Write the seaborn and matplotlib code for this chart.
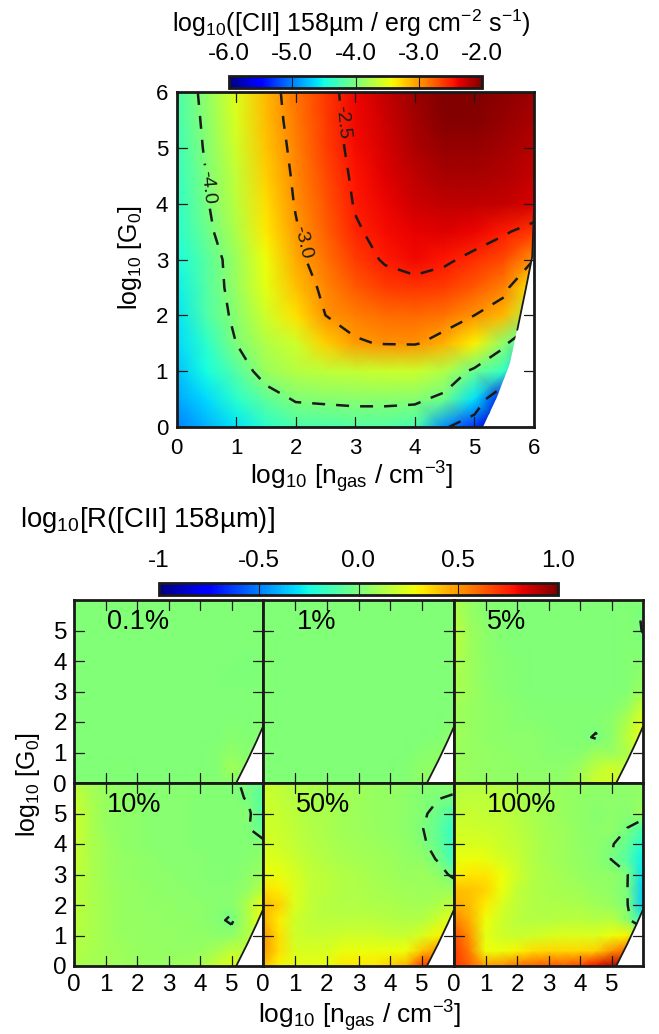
import numpy as np
import pandas as pd
import matplotlib
matplotlib.use("Agg")
import matplotlib.pyplot as plt
import seaborn as sns
from matplotlib.cm import ScalarMappable
from matplotlib.colors import Normalize
from matplotlib.patches import Polygon

W, H = 659, 1034

sns.set_theme(style="ticks")
plt.rcParams["font.family"] = ["Liberation Sans", "DejaVu Sans"]
plt.rcParams["mathtext.fontset"] = "custom"
plt.rcParams["mathtext.rm"] = "Liberation Sans"
plt.rcParams["mathtext.default"] = "regular"
plt.rcParams["text.color"] = "black"
plt.rcParams["xtick.color"] = "black"
plt.rcParams["ytick.color"] = "black"

# grids: rows run from log G0 = 6 (top) down to 0, columns log n = 0 ... 6, step 0.5
grid_step = 0.5

cii_map = [
    [-4.25, -3.90, -3.53, -3.15, -2.85, -2.60, -2.38, -2.25, -2.10, -2.00, -2.00, -2.05, -2.10],
    [-4.28, -3.93, -3.56, -3.17, -2.88, -2.62, -2.40, -2.27, -2.13, -2.03, -2.03, -2.08, -2.15],
    [-4.30, -3.96, -3.60, -3.20, -2.92, -2.64, -2.42, -2.30, -2.17, -2.08, -2.08, -2.13, -2.20],
    [-4.35, -4.00, -3.66, -3.25, -2.95, -2.68, -2.45, -2.33, -2.22, -2.15, -2.15, -2.18, -2.25],
    [-4.38, -4.03, -3.70, -3.30, -2.98, -2.72, -2.48, -2.38, -2.28, -2.22, -2.22, -2.25, -2.30],
    [-4.42, -4.08, -3.76, -3.35, -3.03, -2.78, -2.53, -2.42, -2.36, -2.33, -2.38, -2.47, -2.60],
    [-4.50, -4.18, -3.85, -3.45, -3.08, -2.85, -2.62, -2.47, -2.40, -2.46, -2.56, -2.68, -3.00],
    [-4.55, -4.20, -3.87, -3.50, -3.18, -2.93, -2.75, -2.62, -2.58, -2.62, -2.75, -2.92, -3.40],
    [-4.60, -4.22, -3.93, -3.60, -3.32, -3.00, -2.90, -2.82, -2.80, -2.85, -3.00, -3.15, -3.80],
    [-4.65, -4.38, -4.00, -3.75, -3.60, -3.25, -3.03, -2.98, -2.97, -3.12, -3.38, -3.93, -4.50],
    [-4.75, -4.50, -4.20, -3.85, -3.72, -3.68, -3.65, -3.62, -3.62, -3.75, -4.08, -4.35, -5.20],
    [-4.85, -4.65, -4.40, -4.15, -3.97, -3.95, -3.93, -3.93, -3.94, -4.08, -4.62, -5.60, -6.00],
    [-5.00, -4.80, -4.60, -4.40, -4.25, -4.22, -4.20, -4.20, -4.25, -4.95, -5.30, -6.00, -6.00],
]

ratio_01 = [
    [0.01, 0.01, 0.01, 0.01, 0.01, 0.01, 0.01, 0.01, 0.01, 0.01, 0.01, 0.01, 0.01],
    [0.01, 0.01, 0.01, 0.01, 0.01, 0.01, 0.01, 0.01, 0.01, 0.01, 0.01, 0.01, 0.01],
    [0.01, 0.01, 0.01, 0.01, 0.01, 0.01, 0.01, 0.01, 0.01, 0.01, 0.01, 0.01, 0.01],
    [0.01, 0.01, 0.01, 0.01, 0.01, 0.01, 0.01, 0.01, 0.01, 0.01, 0.01, 0.01, 0.01],
    [0.01, 0.01, 0.01, 0.01, 0.01, 0.01, 0.01, 0.01, 0.01, 0.01, 0.01, 0.005, 0.01],
    [0.01, 0.01, 0.01, 0.01, 0.01, 0.01, 0.01, 0.01, 0.01, 0.01, 0.005, 0.005, 0.01],
    [0.01, 0.01, 0.01, 0.01, 0.01, 0.01, 0.01, 0.01, 0.01, 0.01, 0.01, 0.01, 0.01],
    [0.01, 0.01, 0.01, 0.01, 0.01, 0.01, 0.01, 0.01, 0.01, 0.01, 0.01, 0.01, 0.01],
    [0.01, 0.01, 0.01, 0.01, 0.01, 0.01, 0.01, 0.01, 0.01, 0.01, 0.02, 0.01, 0.03],
    [0.01, 0.01, 0.01, 0.01, 0.01, 0.01, 0.01, 0.01, 0.01, 0.01, 0.03, 0.02, 0.03],
    [0.01, 0.01, 0.01, 0.01, 0.01, 0.01, 0.01, 0.01, 0.01, 0.02, 0.05, 0.03, 0.03],
    [0.01, 0.01, 0.01, 0.02, 0.01, 0.01, 0.01, 0.01, 0.01, 0.02, 0.09, 0.04, 0.04],
    [0.01, 0.01, 0.01, 0.01, 0.01, 0.01, 0.01, 0.01, 0.03, 0.02, 0.03, 0.04, 0.04],
]

ratio_1 = [
    [0.01, 0.01, 0.01, 0.01, 0.01, 0.01, 0.01, 0.01, 0.01, 0.01, 0.01, 0.01, 0.01],
    [0.01, 0.01, 0.01, 0.01, 0.01, 0.01, 0.01, 0.01, 0.01, 0.01, 0.01, 0.01, 0.01],
    [0.01, 0.01, 0.01, 0.01, 0.01, 0.01, 0.01, 0.01, 0.01, 0.01, 0.01, 0.01, 0.01],
    [0.02, 0.01, 0.01, 0.01, 0.01, 0.01, 0.01, 0.01, 0.01, 0.01, 0.01, 0.01, 0.01],
    [0.02, 0.01, 0.01, 0.01, 0.01, 0.01, 0.01, 0.01, 0.01, 0.01, 0.01, 0.01, 0.01],
    [0.02, 0.01, 0.01, 0.01, 0.01, 0.01, 0.01, 0.01, 0.01, 0.01, 0.01, 0.01, 0.01],
    [0.02, 0.01, 0.01, 0.01, 0.01, 0.01, 0.01, 0.01, 0.01, 0.01, 0.01, 0.01, 0.01],
    [0.02, 0.01, 0.01, 0.01, 0.01, 0.01, 0.01, 0.01, 0.01, 0.01, 0.01, 0.01, 0.01],
    [0.02, 0.01, 0.01, 0.01, 0.01, 0.01, 0.01, 0.01, 0.01, 0.01, 0.01, 0.01, 0.03],
    [0.02, 0.01, 0.01, 0.01, 0.01, 0.01, 0.01, 0.01, 0.01, 0.01, 0.01, 0.02, 0.04],
    [0.01, 0.01, 0.01, 0.01, 0.01, 0.01, 0.01, 0.01, 0.01, 0.01, 0.03, 0.04, 0.05],
    [0.01, 0.01, 0.01, 0.01, 0.01, 0.01, 0.01, 0.01, 0.01, 0.02, 0.05, 0.05, 0.05],
    [0.01, 0.01, 0.01, 0.01, 0.01, 0.01, 0.01, 0.01, 0.01, 0.02, 0.05, 0.05, 0.05],
]

ratio_5 = [
    [0.12, 0.07, 0.03, 0.02, 0.01, 0.01, 0.01, 0.01, 0.01, 0.01, 0.01, 0.01, 0.010],
    [0.14, 0.07, 0.03, 0.02, 0.01, 0.01, 0.01, 0.01, 0.01, 0.01, 0.01, 0.02, -0.005],
    [0.16, 0.08, 0.04, 0.02, 0.01, 0.01, 0.01, 0.01, 0.01, 0.01, 0.01, 0.02, -0.002],
    [0.15, 0.08, 0.04, 0.02, 0.01, 0.01, 0.01, 0.01, 0.01, 0.01, 0.01, 0.02, 0.010],
    [0.13, 0.08, 0.04, 0.03, 0.02, 0.01, 0.01, 0.01, 0.01, 0.01, 0.01, 0.02, 0.030],
    [0.12, 0.08, 0.04, 0.03, 0.02, 0.01, 0.01, 0.01, 0.01, 0.01, 0.01, 0.02, 0.050],
    [0.11, 0.08, 0.05, 0.03, 0.02, 0.01, 0.01, 0.01, 0.01, 0.01, 0.01, 0.02, 0.090],
    [0.10, 0.07, 0.05, 0.04, 0.03, 0.02, 0.02, 0.02, 0.02, 0.02, 0.02, 0.06, 0.180],
    [0.09, 0.07, 0.05, 0.04, 0.03, 0.03, 0.02, 0.02, 0.02, 0.02, 0.04, 0.12, 0.250],
    [0.09, 0.07, 0.05, 0.04, 0.04, 0.04, 0.03, 0.02, 0.02, -0.008, 0.04, 0.15, 0.250],
    [0.08, 0.07, 0.06, 0.05, 0.04, 0.04, 0.03, 0.03, 0.03, 0.08, 0.07, 0.12, 0.200],
    [0.08, 0.07, 0.06, 0.05, 0.05, 0.04, 0.04, 0.04, 0.08, 0.15, 0.20, 0.15, 0.150],
    [0.08, 0.07, 0.06, 0.05, 0.05, 0.05, 0.05, 0.05, 0.10, 0.20, 0.20, 0.15, 0.150],
]

ratio_10 = [
    [0.15, 0.10, 0.07, 0.05, 0.04, 0.03, 0.03, 0.03, 0.02, 0.02, 0.01, -0.01, -0.05],
    [0.18, 0.11, 0.07, 0.05, 0.04, 0.03, 0.03, 0.03, 0.02, 0.02, 0.02, -0.005, -0.10],
    [0.20, 0.12, 0.07, 0.05, 0.04, 0.03, 0.03, 0.03, 0.02, 0.02, 0.02, 0.03, -0.10],
    [0.20, 0.12, 0.07, 0.05, 0.04, 0.03, 0.03, 0.03, 0.02, 0.02, 0.02, 0.01, -0.06],
    [0.19, 0.12, 0.08, 0.05, 0.04, 0.03, 0.03, 0.03, 0.02, 0.02, 0.02, 0.02, 0.03],
    [0.18, 0.12, 0.08, 0.06, 0.05, 0.04, 0.03, 0.03, 0.03, 0.02, 0.02, 0.03, 0.05],
    [0.17, 0.12, 0.08, 0.06, 0.05, 0.04, 0.04, 0.03, 0.03, 0.02, 0.02, 0.04, 0.08],
    [0.16, 0.12, 0.09, 0.07, 0.06, 0.05, 0.04, 0.04, 0.03, 0.03, 0.03, 0.06, 0.15],
    [0.16, 0.12, 0.09, 0.07, 0.06, 0.05, 0.05, 0.04, 0.04, 0.03, 0.03, 0.12, 0.28],
    [0.15, 0.12, 0.09, 0.07, 0.06, 0.06, 0.05, 0.05, 0.04, 0.03, -0.02, 0.12, 0.28],
    [0.14, 0.12, 0.09, 0.07, 0.07, 0.06, 0.06, 0.05, 0.05, 0.04, 0.05, 0.12, 0.20],
    [0.13, 0.11, 0.09, 0.08, 0.07, 0.06, 0.06, 0.06, 0.07, 0.10, 0.16, 0.15, 0.15],
    [0.12, 0.10, 0.09, 0.08, 0.07, 0.07, 0.07, 0.08, 0.10, 0.18, 0.24, 0.15, 0.15],
]

ratio_50 = [
    [0.20, 0.17, 0.14, 0.12, 0.10, 0.09, 0.08, 0.07, 0.06, 0.05, 0.03, 0.03, 0.05],
    [0.20, 0.17, 0.14, 0.12, 0.10, 0.09, 0.08, 0.07, 0.06, 0.04, 0.02, 0.005, -0.02],
    [0.21, 0.18, 0.15, 0.12, 0.11, 0.09, 0.08, 0.07, 0.06, 0.04, 0.02, -0.04, -0.12],
    [0.21, 0.19, 0.16, 0.13, 0.11, 0.09, 0.08, 0.07, 0.06, 0.04, 0.005, -0.07, -0.18],
    [0.22, 0.20, 0.17, 0.14, 0.12, 0.10, 0.09, 0.08, 0.07, 0.05, 0.02, -0.05, -0.18],
    [0.24, 0.23, 0.19, 0.15, 0.13, 0.11, 0.10, 0.09, 0.08, 0.06, 0.05, -0.01, -0.15],
    [0.27, 0.26, 0.22, 0.17, 0.15, 0.13, 0.12, 0.10, 0.09, 0.07, 0.08, 0.05, -0.03],
    [0.35, 0.32, 0.23, 0.17, 0.15, 0.13, 0.12, 0.11, 0.10, 0.09, 0.08, 0.08, 0.08],
    [0.42, 0.38, 0.23, 0.17, 0.14, 0.13, 0.13, 0.12, 0.12, 0.10, 0.10, 0.12, 0.18],
    [0.45, 0.32, 0.20, 0.16, 0.15, 0.15, 0.15, 0.15, 0.14, 0.13, 0.14, 0.20, 0.25],
    [0.50, 0.35, 0.20, 0.18, 0.18, 0.20, 0.20, 0.20, 0.18, 0.18, 0.22, 0.30, 0.35],
    [0.50, 0.35, 0.22, 0.22, 0.22, 0.26, 0.27, 0.27, 0.27, 0.28, 0.40, 0.50, 0.50],
    [0.42, 0.30, 0.25, 0.25, 0.26, 0.33, 0.33, 0.33, 0.38, 0.45, 0.70, 0.70, 0.70],
]

ratio_100 = [
    [0.14, 0.14, 0.14, 0.13, 0.11, 0.09, 0.08, 0.07, 0.06, 0.05, 0.04, 0.04, 0.05],
    [0.15, 0.16, 0.16, 0.15, 0.12, 0.10, 0.08, 0.07, 0.05, 0.04, 0.04, 0.04, 0.06],
    [0.17, 0.18, 0.17, 0.16, 0.14, 0.11, 0.09, 0.07, 0.05, 0.03, 0.04, 0.03, 0.08],
    [0.20, 0.20, 0.19, 0.18, 0.15, 0.12, 0.09, 0.08, 0.05, 0.04, 0.05, -0.002, -0.12],
    [0.22, 0.22, 0.22, 0.19, 0.17, 0.13, 0.10, 0.08, 0.05, 0.04, 0.01, -0.06, -0.22],
    [0.26, 0.28, 0.26, 0.22, 0.18, 0.13, 0.10, 0.08, 0.06, 0.04, -0.002, -0.10, -0.28],
    [0.30, 0.33, 0.33, 0.28, 0.20, 0.14, 0.11, 0.09, 0.07, 0.05, 0.05, 0.01, -0.30],
    [0.42, 0.40, 0.37, 0.28, 0.17, 0.13, 0.11, 0.10, 0.09, 0.07, 0.05, 0.005, -0.35],
    [0.45, 0.42, 0.32, 0.22, 0.16, 0.13, 0.12, 0.12, 0.11, 0.09, 0.07, 0.01, -0.35],
    [0.55, 0.45, 0.28, 0.20, 0.15, 0.14, 0.14, 0.15, 0.15, 0.14, 0.15, 0.05, -0.20],
    [0.65, 0.50, 0.25, 0.20, 0.18, 0.20, 0.22, 0.23, 0.23, 0.23, 0.27, 0.30, 0.20],
    [0.70, 0.55, 0.28, 0.27, 0.30, 0.35, 0.36, 0.36, 0.36, 0.38, 0.50, 0.60, 0.60],
    [0.70, 0.62, 0.48, 0.52, 0.58, 0.62, 0.64, 0.64, 0.68, 0.80, 0.90, 0.90, 0.90],
]

panel_grids = [ratio_01, ratio_1, ratio_5, ratio_10, ratio_50, ratio_100]
panel_names = ["0.1%", "1%", "5%", "10%", "50%", "100%"]

# edge of the computed region (white beyond it)
top_edge_n = [5.15, 5.38, 5.60, 5.72, 5.86, 5.97, 6.00]
top_edge_g = [0.00, 0.54, 1.15, 1.74, 2.46, 3.05, 3.90]
low_edge_n = [5.15, 5.50, 5.80, 6.00]
low_edge_g = [0.00, 0.72, 1.38, 1.85]

top_levels = [-5.0, -4.0, -3.0, -2.5]
top_label_spots = [(0.53, 4.3), (2.1, 3.3), (2.72, 5.45)]
top_bar_ticks = [-6, -5, -4, -3, -2]
top_bar_labels = ["-6.0", "-5.0", "-4.0", "-3.0", "-2.0"]
low_bar_ticks = [-1, -0.5, 0, 0.5, 1]
low_bar_labels = ["-1", "-0.5", "0.0", "0.5", "1.0"]


def px_axes(fig, x0, y0, x1, y1):
    return fig.add_axes([x0 / W, 1 - y1 / H, (x1 - x0) / W, (y1 - y0) / H])


def draw_map(ax, grid, vmin, vmax, edge_n, edge_g, levels, edge_from=0):
    # flip so the first row of the frame is log G0 = 0, index coords are value / step
    df = pd.DataFrame(np.array(grid)[::-1])
    sns.heatmap(df, ax=ax, cmap="jet", vmin=vmin, vmax=vmax, cbar=False,
                xticklabels=False, yticklabels=False, shading="gouraud")
    mesh = ax.collections[0]
    mesh.set_zorder(0.1)
    last = len(df) - 1
    ax.set_xlim(0, last)
    ax.set_ylim(0, last)

    outline = [(0, 0)] + [(n / grid_step, g / grid_step) for n, g in zip(edge_n, edge_g)]
    outline += [(last, last), (0, last)]
    clip = Polygon(outline, transform=ax.transData)
    mesh.set_clip_path(clip)
    cs = ax.contour(df.values, levels=levels, colors="k", linewidths=1.8,
                    linestyles=[(0, (5.2, 4.4))])
    cs.set_clip_path(clip)
    ax.plot(np.array(edge_n[edge_from:]) / grid_step, np.array(edge_g[edge_from:]) / grid_step,
            color="#1a1a1a", lw=1.3)
    for s in ax.spines.values():
        s.set_visible(True)
        s.set_linewidth(2.0)
        s.set_color("k")
    return cs


def set_ticks(ax, ticks, size, xpad, ypad, left=True, bottom=True):
    pos = np.array(ticks) / grid_step
    ax.set_xticks(pos)
    ax.set_yticks(pos)
    ax.set_xticklabels([str(t) for t in ticks] if bottom else [])
    ax.set_yticklabels([str(t) for t in ticks] if left else [])
    ax.tick_params(axis="x", direction="in", length=0, pad=xpad, labelsize=size, labelbottom=bottom)
    ax.tick_params(axis="y", direction="in", length=0, pad=ypad, labelsize=size, labelleft=left)

    # the axis' own tick marks do not show over the gouraud mesh, so line them in by hand
    fx = 10 / ax.bbox.width
    fy = 10 / ax.bbox.height
    xt = ax.get_xaxis_transform()
    yt = ax.get_yaxis_transform()
    for p in pos:
        ax.plot([p, p], [0, fy], transform=xt, color="k", lw=0.9, zorder=3)
        ax.plot([p, p], [1 - fy, 1], transform=xt, color="k", lw=0.9, zorder=3)
        ax.plot([0, fx], [p, p], transform=yt, color="k", lw=0.9, zorder=3)
        ax.plot([1 - fx, 1], [p, p], transform=yt, color="k", lw=0.9, zorder=3)


def draw_bar(fig, box, vmin, vmax, ticks, labels, size):
    cax = px_axes(fig, *box)
    sm = ScalarMappable(norm=Normalize(vmin, vmax), cmap="jet")
    cb = fig.colorbar(sm, cax=cax, orientation="horizontal", ticks=ticks)
    cb.ax.set_axisbelow(False)
    cb.ax.xaxis.set_ticks_position("top")
    cb.set_ticklabels(labels)
    cb.ax.tick_params(direction="in", length=9, width=0.8, labelsize=size, pad=8, color="k")
    cb.outline.set_linewidth(2.0)
    cb.outline.set_edgecolor("k")


fig = plt.figure(figsize=(W / 100, H / 100), dpi=100)

# top panel
ax = px_axes(fig, 176.5, 92, 534, 427)
cs = draw_map(ax, cii_map, -6, -2, top_edge_n, top_edge_g, top_levels, edge_from=3)
set_ticks(ax, [0, 1, 2, 3, 4, 5, 6], 16, 8, 6)
ax.clabel(cs, fmt="%.1f", fontsize=14, inline=True,
          manual=[(n / grid_step, g / grid_step) for n, g in top_label_spots])
draw_bar(fig, (229, 76, 482, 88), -6, -2, top_bar_ticks, top_bar_labels, 17.5)
fig.text(351 / W, 1 - 23 / H, "log$_{10}$([CII] 158µm / erg cm$^{-2}$ s$^{-1}$)",
         fontsize=18, ha="center", va="center")
fig.text(352 / W, 1 - 477 / H, "log$_{10}$ [n$_{gas}$ / cm$^{-3}$]",
         fontsize=19, ha="center", va="center")
fig.text(130 / W, 1 - 258 / H, "log$_{10}$ [G$_{0}$]",
         fontsize=18, ha="center", va="center", rotation=90)

# six ratio panels
xs = [74, 263, 454, 643]
ys = [600, 783, 966]
for i, (grid, name) in enumerate(zip(panel_grids, panel_names)):
    row, col = divmod(i, 3)
    ax = px_axes(fig, xs[col], ys[row], xs[col + 1], ys[row + 1])
    draw_map(ax, grid, -1, 1, low_edge_n, low_edge_g, [0.0])
    set_ticks(ax, [0, 1, 2, 3, 4, 5], 17.5, 6, 5, left=col == 0, bottom=row == 1)
    ax.text(0.175, 0.88, name, transform=ax.transAxes, fontsize=19.5, va="center")

draw_bar(fig, (159, 583, 558, 595), -1, 1, low_bar_ticks, low_bar_labels, 17.5)
fig.text(20 / W, 1 - 520 / H, "log$_{10}$[R([CII] 158µm)]", fontsize=19.8, ha="left", va="center")
fig.text(360 / W, 1 - 1016 / H, "log$_{10}$ [n$_{gas}$ / cm$^{-3}$]",
         fontsize=19, ha="center", va="center")
fig.text(28 / W, 1 - 785 / H, "log$_{10}$ [G$_{0}$]",
         fontsize=18, ha="center", va="center", rotation=90)

fig.savefig("out.png", dpi=100, facecolor="white")
